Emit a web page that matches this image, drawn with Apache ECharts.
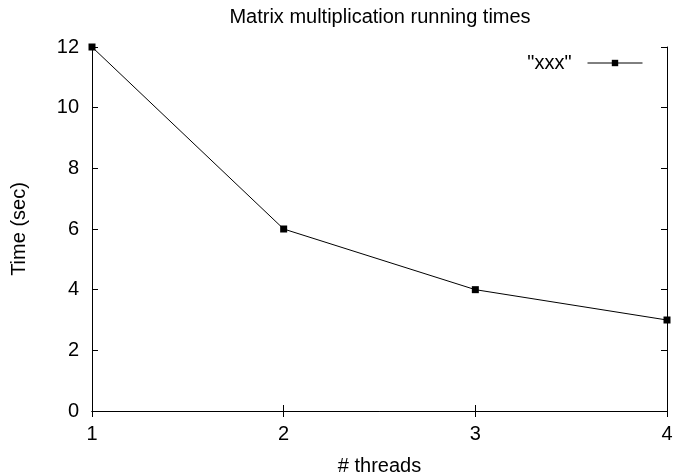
<!DOCTYPE html>
<html>
<head>
<meta charset="utf-8">
<script src="https://cdn.jsdelivr.net/npm/echarts@6/dist/echarts.min.js"></script>
<style>html,body{margin:0;padding:0;background:#fff}#c{width:674px;height:475px}</style>
</head>
<body>
<div id="c"></div>
<script>
var threads = [1, 2, 3, 4];
var times = [12, 6, 4, 3];
var seriesName = '"xxx"';
var titleText = 'Matrix multiplication running times';
var xName = '# threads';
var yName = 'Time (sec)';

var FONT = '"Liberation Sans", Arial, sans-serif';
var FS = 20;
var chart = echarts.init(document.getElementById('c'), null, {renderer: 'canvas'});
var dataPts = threads.map(function (t, i) { return [t, times[i]]; });
var axisCommon = {
  axisLine: {show: true, lineStyle: {color: '#000', width: 1}},
  axisTick: {show: true, inside: true, length: 6, lineStyle: {color: '#000', width: 1}},
  splitLine: {show: false}
};
chart.setOption({
  animation: false,
  backgroundColor: '#fff',
  textStyle: {fontFamily: FONT},
  title: {
    text: titleText, left: 380, top: 7, textAlign: 'center', padding: 0,
    textStyle: {fontFamily: FONT, fontSize: FS, fontWeight: 'normal', color: '#000'}
  },
  legend: {
    data: [{name: seriesName}], right: 31, top: 53, padding: 0, align: 'right',
    itemWidth: 55, itemHeight: 8,
    lineStyle: {width: 1, color: '#000'},
    textStyle: {fontFamily: FONT, fontSize: FS, color: '#000', padding: [0, 11, 0, 0]}
  },
  grid: {left: 92, right: 7, top: 47, bottom: 64, containLabel: false, outerBoundsMode: 'none'},
  xAxis: [
    Object.assign({
      type: 'value', min: 1, max: 4, interval: 1, position: 'bottom',
      name: xName, nameLocation: 'middle', nameGap: 45,
      nameTextStyle: {fontFamily: FONT, fontSize: FS, color: '#000'},
      axisLabel: {show: true, margin: 13, fontFamily: FONT, fontSize: FS, color: '#000'}
    }, axisCommon),
    Object.assign({
      type: 'value', min: 1, max: 4, interval: 1, position: 'top',
      axisLabel: {show: false}
    }, axisCommon)
  ],
  yAxis: [
    Object.assign({
      type: 'value', min: 0, max: 12, interval: 2, position: 'left',
      name: yName, nameLocation: 'middle', nameGap: 63,
      nameTextStyle: {fontFamily: FONT, fontSize: FS, color: '#000'},
      axisLabel: {show: true, margin: 13, fontFamily: FONT, fontSize: FS, color: '#000'}
    }, axisCommon),
    Object.assign({
      type: 'value', min: 0, max: 12, interval: 2, position: 'right',
      axisLabel: {show: false}
    }, axisCommon)
  ],
  series: [{
    name: seriesName, type: 'line', data: dataPts,
    xAxisIndex: 0, yAxisIndex: 0,
    symbol: 'rect', symbolSize: 7, showAllSymbol: true,
    lineStyle: {color: '#000', width: 1},
    itemStyle: {color: '#000', borderWidth: 0},
    clip: false
  }]
});
</script>
</body>
</html>
